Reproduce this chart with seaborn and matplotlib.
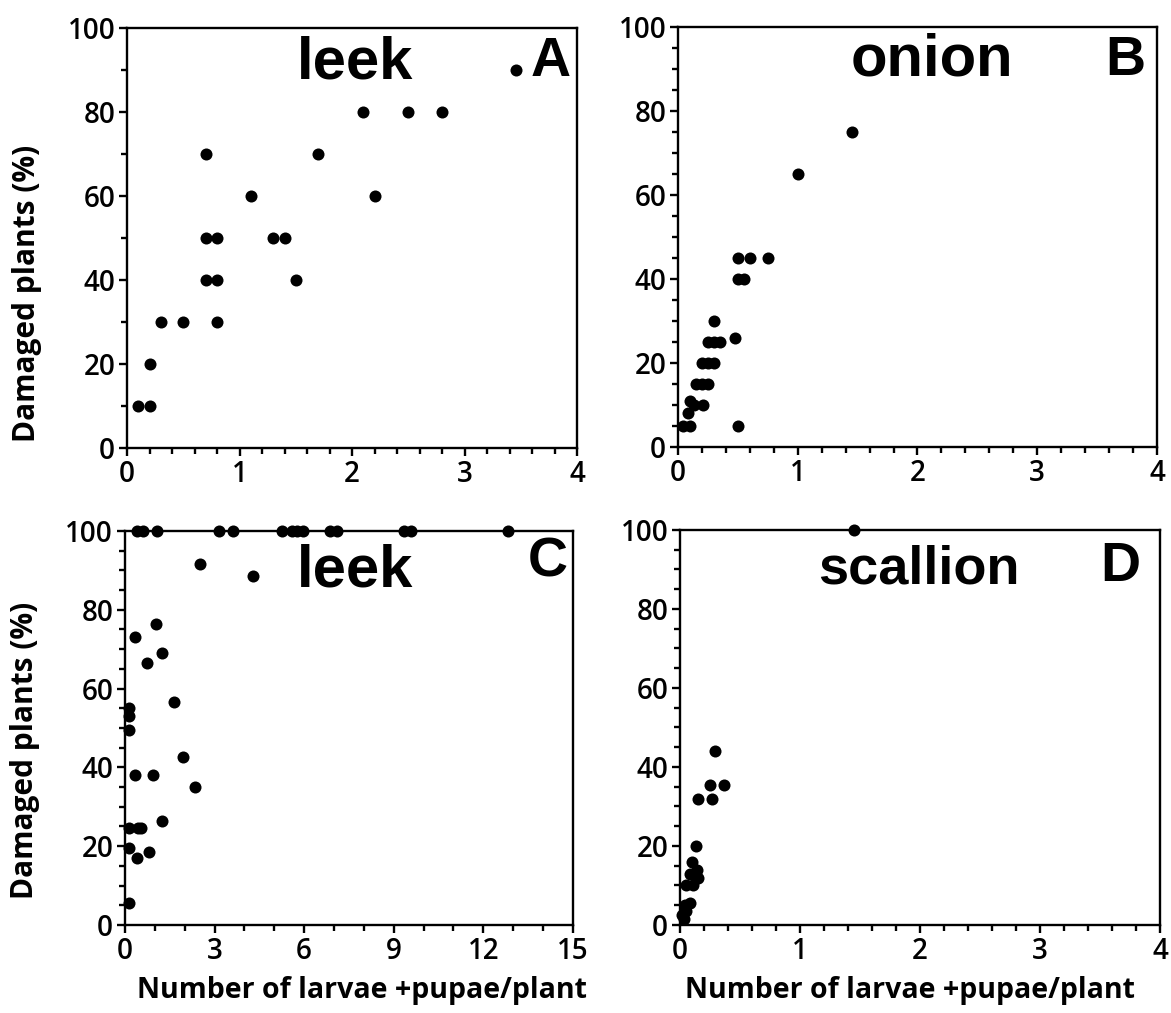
import pandas as pd
import seaborn as sns
import matplotlib

matplotlib.use("Agg")
import matplotlib.pyplot as plt
from matplotlib.ticker import MultipleLocator


# Panel A - leek
leek_a_x = [0.1, 0.2, 0.2, 0.3, 0.5, 0.7, 0.7, 0.8, 0.7, 0.8, 0.8, 1.1, 1.3, 1.4,
            1.5, 1.7, 2.1, 2.2, 2.5, 2.8, 3.46]
leek_a_y = [10, 10, 20, 30, 30, 70, 50, 50, 40, 40, 30, 60, 50, 50,
            40, 70, 80, 60, 80, 80, 90]

# Panel B - onion
onion_x = [0.04, 0.1, 0.5, 0.08, 0.1, 0.13, 0.21, 0.15, 0.2, 0.25, 0.2, 0.25, 0.3,
           0.25, 0.3, 0.35, 0.3, 0.48, 0.5, 0.55, 0.5, 0.6, 0.75, 1.0, 1.45]
onion_y = [5, 5, 5, 8, 11, 10, 10, 15, 15, 15, 20, 20, 20,
           25, 25, 25, 30, 26, 40, 40, 45, 45, 45, 65, 75]

# Panel C - leek (second survey)
leek_c_x = [0.42, 0.62, 1.06, 3.16, 3.61, 5.25, 5.6, 5.75, 5.95, 6.88, 7.1, 9.34,
            9.59, 12.83, 2.5, 4.3, 1.05, 0.35, 1.25, 0.75, 1.65, 0.15, 0.15, 0.15,
            1.95, 0.35, 0.95, 2.35, 1.25, 0.15, 0.45, 0.55, 0.15, 0.8, 0.4, 0.15]
leek_c_y = [100, 100, 100, 100, 100, 100, 100, 100, 100, 100, 100, 100,
            100, 100, 91.5, 88.5, 76.5, 73, 69, 66.5, 56.5, 55, 53, 49.5,
            42.5, 38, 38, 35, 26.5, 24.5, 24.5, 24.5, 19.5, 18.5, 17, 5.5]

# Panel D - scallion
scallion_x = [1.45, 0.29, 0.25, 0.37, 0.15, 0.27, 0.13, 0.1, 0.08, 0.145, 0.15,
              0.05, 0.11, 0.085, 0.04, 0.05, 0.02, 0.03]
scallion_y = [100, 44, 35.5, 35.5, 32, 32, 20, 16, 13, 14, 12,
              10, 10, 5.5, 5, 3.5, 2.5, 1.5]

panels = [
    ("leek", "A", leek_a_x, leek_a_y),
    ("onion", "B", onion_x, onion_y),
    ("leek", "C", leek_c_x, leek_c_y),
    ("scallion", "D", scallion_x, scallion_y),
]

YLABEL = "Damaged plants (%)"
XLABEL = "Number of larvae +pupae/plant"


def main():
    sns.set_style("ticks")
    plt.rcParams["font.family"] = ["Open Sans", "DejaVu Sans"]
    plt.rcParams["text.color"] = "black"
    plt.rcParams["axes.labelcolor"] = "black"

    fig = plt.figure(figsize=(11.71, 10.13), dpi=100)

    # axes rectangles in figure fraction
    rects = [
        [0.1085, 0.5578, 0.3843, 0.4146],
        [0.5790, 0.5588, 0.4090, 0.4146],
        [0.1067, 0.0869, 0.3826, 0.3890],
        [0.5807, 0.0869, 0.4100, 0.3900],
    ]
    xmax = [4, 4, 15, 4]
    xmajor = [1, 1, 3, 1]
    xminor = [0.2, 0.2, 1, 0.2]
    yminor = [10, 5, 5, 5]
    title_pos = [(0.507, 0.88), (0.53, 0.884), (0.513, 0.86), (0.498, 0.864)]
    letter_pos = [(0.985, 0.885), (0.975, 0.886), (0.989, 0.885), (0.958, 0.87)]
    title_size = [43, 43, 43, 39]

    for i, (name, letter, xs, ys) in enumerate(panels):
        ax = fig.add_axes(rects[i])
        df = pd.DataFrame({"x": xs, "y": ys})
        sns.scatterplot(data=df, x="x", y="y", ax=ax, color="black", s=75,
                        linewidth=0, clip_on=False, zorder=5)

        ax.set_xlim(0, xmax[i])
        ax.set_ylim(0, 100)
        ax.xaxis.set_major_locator(MultipleLocator(xmajor[i]))
        ax.xaxis.set_minor_locator(MultipleLocator(xminor[i]))
        ax.yaxis.set_major_locator(MultipleLocator(20))
        ax.yaxis.set_minor_locator(MultipleLocator(yminor[i]))

        for sp in ax.spines.values():
            sp.set_visible(True)
            sp.set_linewidth(1.7)
            sp.set_color("black")
        ax.tick_params(which="major", direction="out", length=5.5, width=1.7,
                       labelsize=20, colors="black", pad=3)
        ax.tick_params(which="minor", direction="out", length=4, width=1.7,
                       colors="black")
        for lab in ax.get_xticklabels() + ax.get_yticklabels():
            lab.set_fontweight("semibold")

        ax.text(title_pos[i][0], title_pos[i][1], name, transform=ax.transAxes,
                ha="center", va="baseline", fontsize=title_size[i],
                fontweight="bold", color="black",
                family=["Liberation Sans", "DejaVu Sans"])
        ax.text(letter_pos[i][0], letter_pos[i][1], letter, transform=ax.transAxes,
                ha="right", va="baseline", fontsize=40, fontweight="bold",
                color="black", family=["Liberation Sans", "DejaVu Sans"])

        ax.set_xlabel("")
        ax.set_ylabel("")
        if i in (0, 2):
            ax.set_ylabel(YLABEL, fontsize=21.5, fontweight="bold")
            ax.yaxis.set_label_coords(-0.19, 0.367 if i == 0 else 0.444)
        if i in (2, 3):
            ax.set_xlabel(XLABEL, fontsize=20.5, fontweight="bold")
            ax.xaxis.set_label_coords(0.53 if i == 2 else 0.48, -0.13)

    fig.savefig("out.png", dpi=100)
    plt.close(fig)


if __name__ == "__main__":
    main()
